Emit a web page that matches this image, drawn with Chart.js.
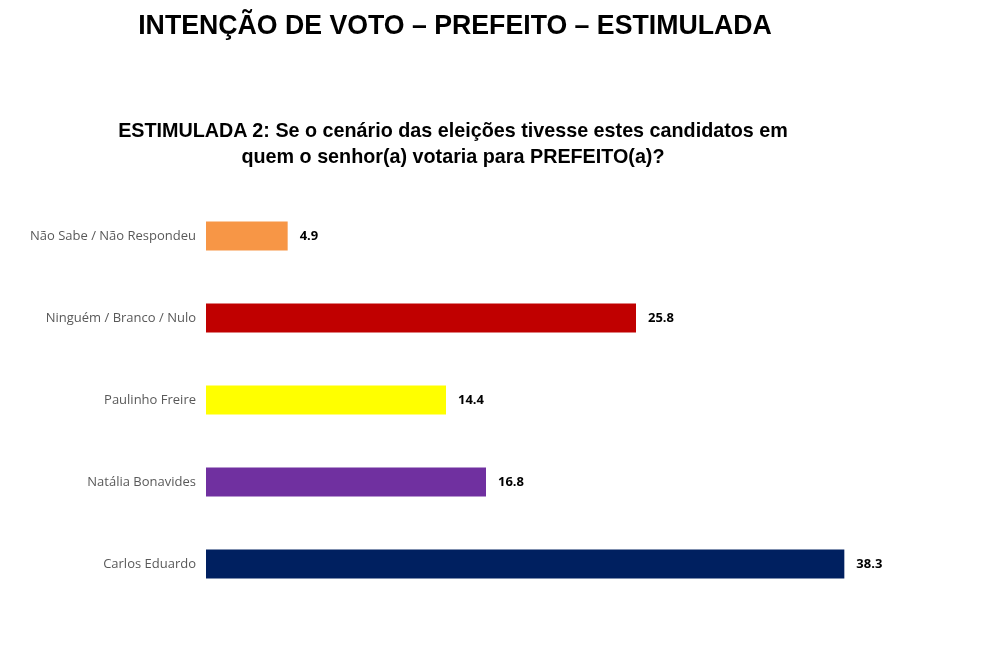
<!DOCTYPE html>
<html>
<head>
<meta charset="utf-8">
<script src="https://cdn.jsdelivr.net/npm/chart.js@4.4.0/dist/chart.umd.min.js"></script>
<style>
  html, body { margin: 0; padding: 0; background: #fff; }
  #wrap { position: relative; width: 984px; height: 661px; }
  #chart { position: absolute; left: 0; top: 0; }
  .t { position: absolute; font-weight: bold; color: #000; white-space: nowrap; text-align: center; }
  #title { left: 455px; top: 8px; font-family: "Liberation Sans", Arial, sans-serif; font-size: 28px; line-height: 34px; transform: translateX(-50%) scaleX(0.953); }
  #sub { left: 453px; top: 117px; font-family: "Liberation Sans", Arial, sans-serif; font-size: 21px; line-height: 26px; transform: translateX(-50%) scaleX(0.94); }
</style>
</head>
<body>
<div id="wrap">
  <canvas id="chart" width="984" height="661"></canvas>
  <div class="t" id="title">INTENÇÃO DE VOTO – PREFEITO – ESTIMULADA</div>
  <div class="t" id="sub">ESTIMULADA 2: Se o cenário das eleições tivesse estes candidatos em<br>quem o senhor(a) votaria para PREFEITO(a)?</div>
</div>
<script>
'use strict';

const categories = ['Não Sabe / Não Respondeu', 'Ninguém / Branco / Nulo', 'Paulinho Freire', 'Natália Bonavides', 'Carlos Eduardo'];
const values = [4.9, 25.8, 14.4, 16.8, 38.3];
const barColors = ['#F79646', '#C00000', '#FFFF00', '#7030A0', '#002060'];

// Rótulos de valor no fim de cada barra
const valueLabels = {
    id: 'valueLabels',
    afterDatasetsDraw(chart) {
        const ctx = chart.ctx;
        const meta = chart.getDatasetMeta(0);
        ctx.save();
        ctx.font = 'bold 13px "Open Sans", sans-serif';
        ctx.fillStyle = '#000';
        ctx.textAlign = 'left';
        ctx.textBaseline = 'middle';
        meta.data.forEach((bar, i) => {
            ctx.fillText(values[i].toFixed(1), bar.x + 12, bar.y);
        });
        ctx.restore();
    }
};

new Chart(document.getElementById('chart'), {
    type: 'bar',
    data: {
        labels: categories,
        datasets: [{
            data: values,
            backgroundColor: barColors,
            borderWidth: 0,
            categoryPercentage: 1,
            barPercentage: 0.355,
        }]
    },
    options: {
        indexAxis: 'y',
        responsive: false,
        animation: false,
        layout: { padding: { top: 195, bottom: 56, left: 0, right: 28 } },
        plugins: { legend: { display: false }, tooltip: { enabled: false } },
        scales: {
            x: {
                min: 0, max: 45,
                display: false,
            },
            y: {
                afterFit: s => { s.width = 206; },
                grid: { display: false, drawTicks: false },
                border: { display: false },
                ticks: {
                    color: '#595959',
                    padding: 10,
                    font: { family: '"Open Sans", sans-serif', size: 13 },
                }
            }
        }
    },
    plugins: [valueLabels]
});
</script>
</body>
</html>
